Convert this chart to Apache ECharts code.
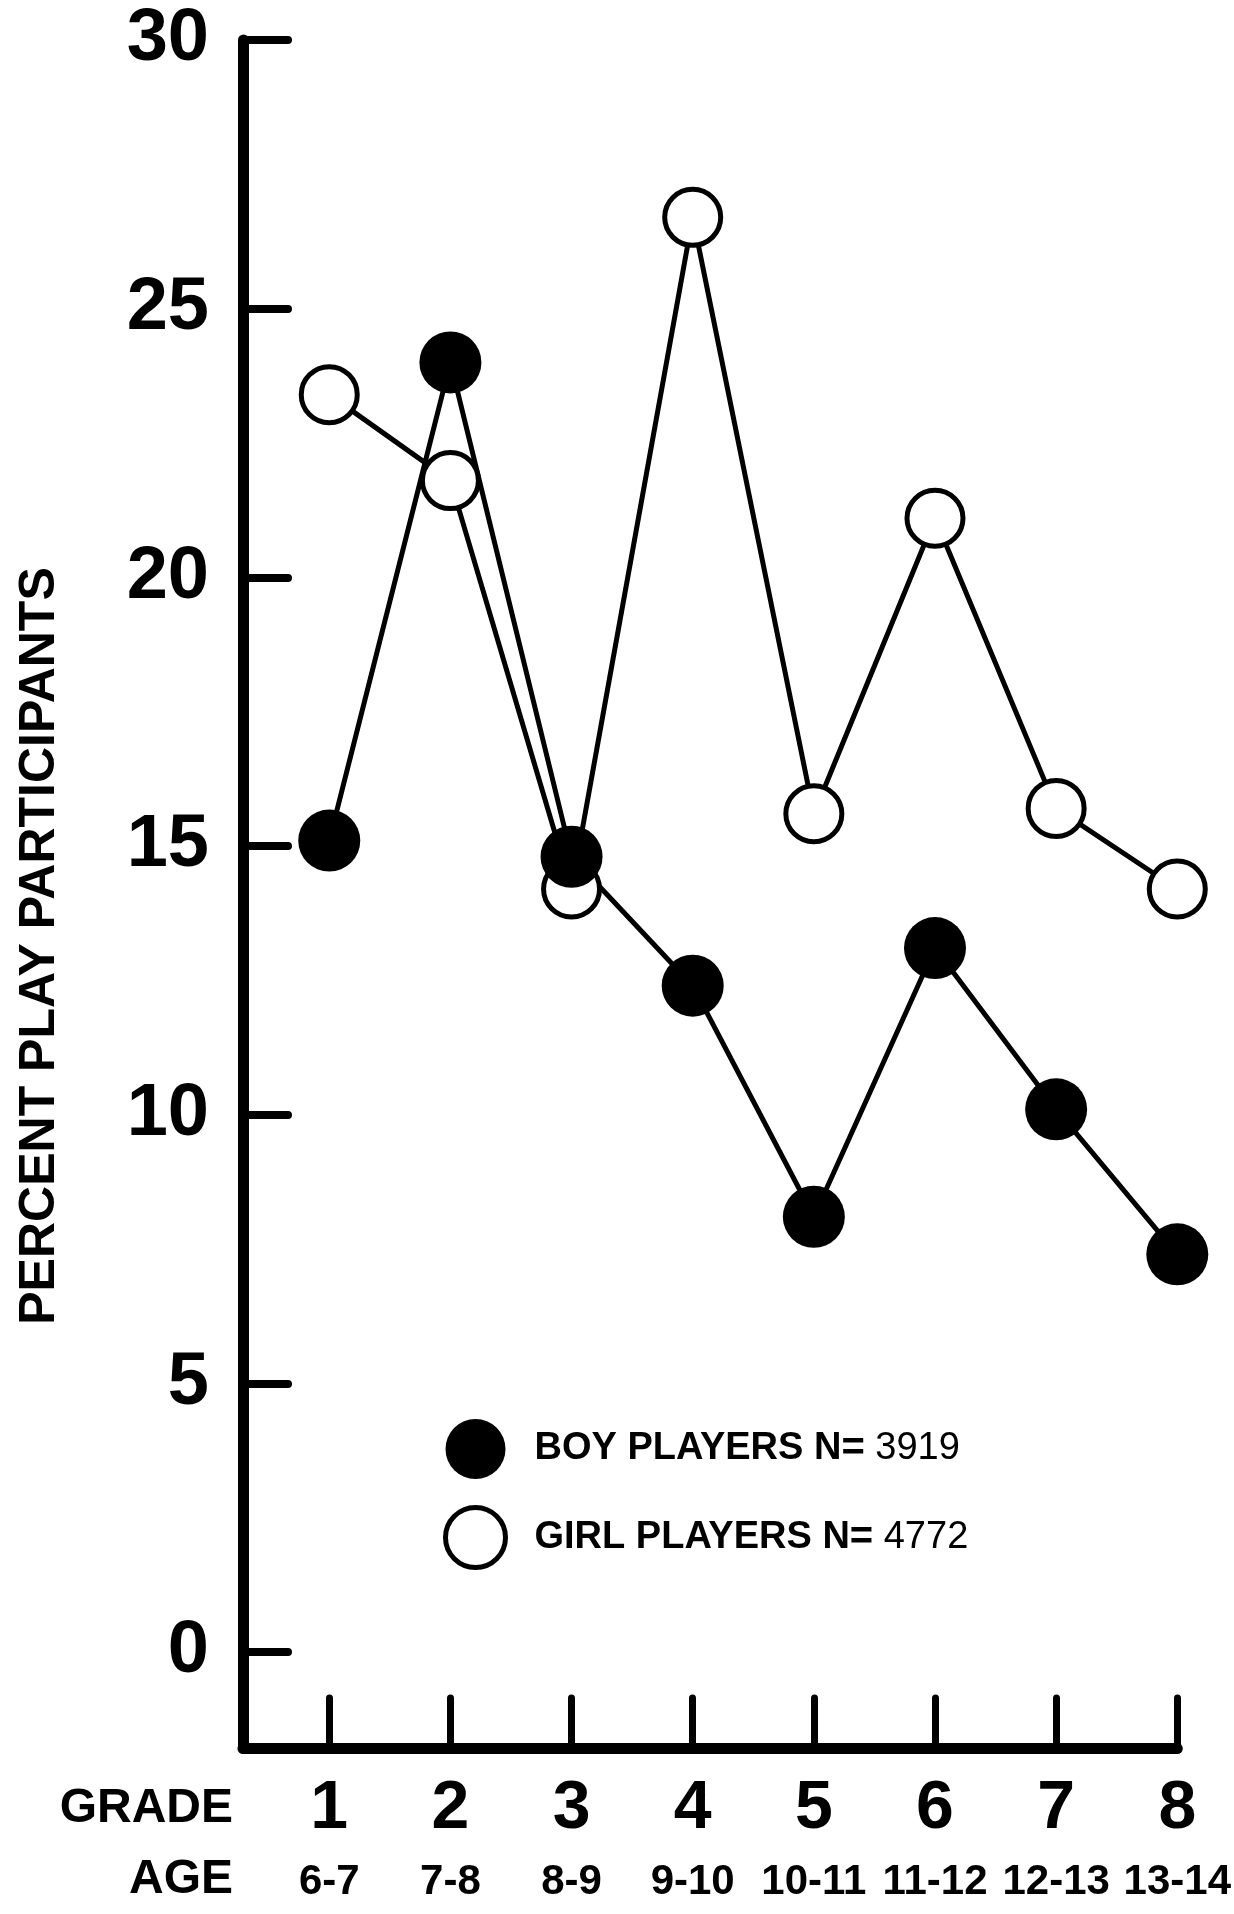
<!DOCTYPE html>
<html>
<head>
<meta charset="utf-8">
<script src="https://cdn.jsdelivr.net/npm/echarts@6/dist/echarts.min.js"></script>
<style>
html,body{margin:0;padding:0;background:#fff;}
#chart{width:1234px;height:1914px;}
</style>
</head>
<body>
<div id="chart"></div>
<script>
// ---- data ----
const grades = [1, 2, 3, 4, 5, 6, 7, 8];
const ages = ['6-7', '7-8', '8-9', '9-10', '10-11', '11-12', '12-13', '13-14'];
const boys = [15.1, 24.0, 14.8, 12.4, 8.1, 13.1, 10.1, 7.4];
const girls = [23.4, 21.8, 14.2, 26.7, 15.6, 21.1, 15.7, 14.2];
const yTicks = [0, 5, 10, 15, 20, 25, 30];
const seriesNames = ['BOY PLAYERS', 'GIRL PLAYERS'];
const counts = ['3919', '4772'];
const yTitle = 'PERCENT PLAY PARTICIPANTS';
const rowTitles = ['GRADE', 'AGE'];

const FONT = '"Liberation Sans", Arial, sans-serif';

const chart = echarts.init(document.getElementById('chart'), null, {renderer: 'canvas'});

const option = {
  animation: false,
  backgroundColor: '#fff',
  grid: {left: 243, right: 52, top: 40, bottom: 166, containLabel: false},
  xAxis: {
    type: 'value',
    min: 0.288,
    max: 8,
    axisLine: {show: true, onZero: false, lineStyle: {color: '#000', width: 11, cap: 'round'}},
    axisTick: {show: true, inside: true, length: 50, customValues: grades,
      lineStyle: {color: '#000', width: 7, cap: 'round'}},
    splitLine: {show: false},
    axisLabel: {
      customValues: grades,
      margin: 23,
      formatter: function (v) {
        const i = grades.indexOf(v);
        return '{g|' + v + '}\n{a|' + ages[i] + '}';
      },
      rich: {
        g: {fontSize: 68, fontWeight: 'bold', fontFamily: FONT, color: '#000', lineHeight: 76, align: 'center'},
        a: {fontSize: 42, fontWeight: 'bold', fontFamily: FONT, color: '#000', lineHeight: 70, align: 'center'}
      }
    }
  },
  yAxis: {
    type: 'value',
    min: -1.787,
    max: 30,
    axisLine: {show: true, onZero: false, lineStyle: {color: '#000', width: 11, cap: 'round'}},
    axisTick: {show: true, inside: true, length: 45, customValues: yTicks,
      lineStyle: {color: '#000', width: 8, cap: 'round'}},
    splitLine: {show: false},
    axisLabel: {
      customValues: yTicks,
      margin: 34,
      fontSize: 74,
      fontWeight: 'bold',
      fontFamily: FONT,
      color: '#000'
    }
  },
  legend: {
    orient: 'vertical',
    left: 438,
    top: 1414,
    itemWidth: 60,
    itemHeight: 60,
    itemGap: 26,
    icon: 'circle',
    data: [
      {name: seriesNames[0], itemStyle: {color: '#000', borderWidth: 0}},
      {name: seriesNames[1], itemStyle: {color: '#fff', borderColor: '#000', borderWidth: 5}}
    ],
    formatter: function (name) {
      const i = seriesNames.indexOf(name);
      return '{t|' + name + ' N}{e|=}{n| ' + counts[i] + '}';
    },
    textStyle: {
      padding: [0, 0, 0, 24],
      rich: {
        t: {fontSize: 38, fontWeight: 'bold', fontFamily: FONT, color: '#000'},
        e: {fontSize: 40, fontWeight: 'bold', fontFamily: FONT, color: '#000'},
        n: {fontSize: 38, fontWeight: 'normal', fontFamily: FONT, color: '#000'}
      }
    }
  },
  graphic: [
    {
      type: 'text', x: 40, y: 946, rotation: Math.PI / 2,
      style: {text: yTitle, fontSize: 50, fontWeight: 'bold', fontFamily: FONT, fill: '#000',
        align: 'center', verticalAlign: 'middle'}
    },
    {
      type: 'text', x: 233, y: 1809,
      style: {text: rowTitles[0], fontSize: 48, fontWeight: 'bold', fontFamily: FONT, fill: '#000',
        align: 'right', verticalAlign: 'middle'}
    },
    {
      type: 'text', x: 233, y: 1880,
      style: {text: rowTitles[1], fontSize: 48, fontWeight: 'bold', fontFamily: FONT, fill: '#000',
        align: 'right', verticalAlign: 'middle'}
    }
  ],
  series: [
    {
      name: seriesNames[1],
      type: 'line',
      data: grades.map(function (g, i) { return [g, girls[i]]; }),
      symbol: 'circle',
      symbolSize: 56,
      showAllSymbol: true,
      lineStyle: {color: '#000', width: 5},
      itemStyle: {color: '#fff', borderColor: '#000', borderWidth: 5},
      emphasis: {disabled: true}
    },
    {
      name: seriesNames[0],
      type: 'line',
      data: grades.map(function (g, i) { return [g, boys[i]]; }),
      symbol: 'circle',
      symbolSize: 62,
      showAllSymbol: true,
      lineStyle: {color: '#000', width: 5},
      itemStyle: {color: '#000', borderWidth: 0},
      emphasis: {disabled: true}
    }
  ]
};

chart.setOption(option);
</script>
</body>
</html>
